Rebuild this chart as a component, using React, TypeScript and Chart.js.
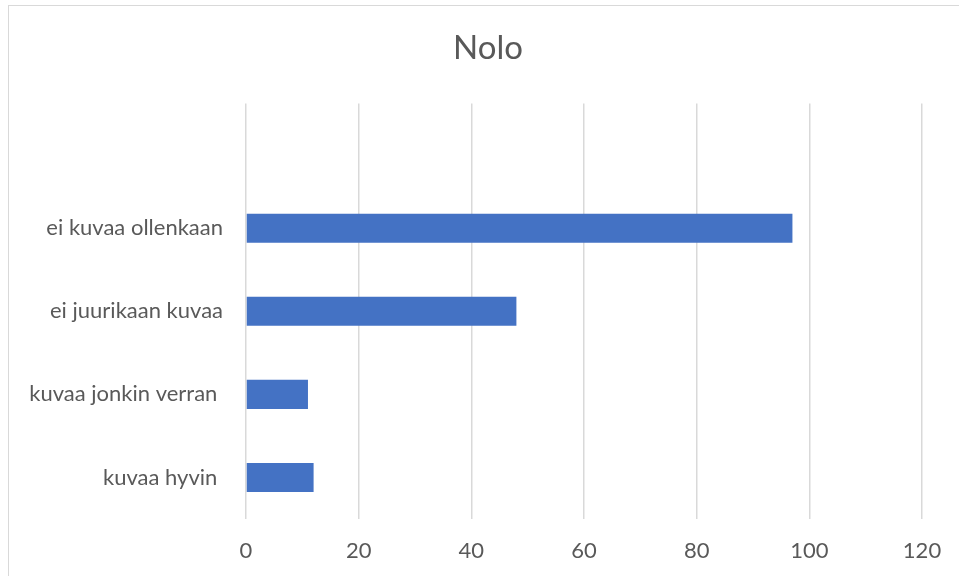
import React, { useEffect, useRef } from "react";
import { Chart, registerables } from "chart.js";

Chart.register(...registerables);

const titleText = "Nolo";
const categories = ["", "ei kuvaa ollenkaan", "ei juurikaan kuvaa", "kuvaa jonkin verran ", "kuvaa hyvin "];
const values: (number | null)[] = [null, 97, 48, 11, 12];
const xMin = 0;
const xMax = 120;
const xStep = 20;

const FONT = "Lato, 'Open Sans', sans-serif";
const TEXT = "#595959";

export default function App() {
  const ref = useRef<HTMLCanvasElement | null>(null);

  useEffect(() => {
    if (!ref.current) return;
    const chart = new Chart(ref.current, {
      type: "bar",
      data: {
        labels: categories,
        datasets: [
          {
            data: values,
            backgroundColor: "#4472C4",
            borderWidth: 0,
            categoryPercentage: 1,
            barPercentage: 0.35,
          },
        ],
      },
      options: {
        indexAxis: "y",
        responsive: false,
        animation: false,
        layout: { padding: { left: 0, right: 0, top: 0, bottom: 0 } },
        plugins: {
          legend: { display: false },
          tooltip: { enabled: false },
          title: {
            display: true,
            text: titleText,
            color: TEXT,
            font: { family: FONT, size: 33, weight: "normal" },
            padding: { top: 23, bottom: 35 },
          },
        },
        scales: {
          x: {
            min: xMin,
            max: xMax,
            ticks: {
              stepSize: xStep,
              color: TEXT,
              font: { family: FONT, size: 22 },
              padding: 19,
            },
            grid: { color: "#d9d9d9", lineWidth: 1.5, drawTicks: false },
            border: { display: false },
            afterFit: (s: any) => {
              s.height = 57;
            },
          },
          y: {
            ticks: {
              color: TEXT,
              font: { family: FONT, size: 22 },
              padding: 23,
            },
            grid: { display: false, drawTicks: false },
            border: { display: false },
            afterFit: (s: any) => {
              s.width = 237;
            },
          },
          yRight: {
            type: "category",
            position: "right",
            labels: [""],
            ticks: { display: false },
            grid: { display: false, drawTicks: false },
            border: { display: false },
            afterFit: (s: any) => {
              s.width = 45;
            },
          },
        },
      },
    });
    return () => chart.destroy();
  }, []);

  return (
    <div
      style={{
        position: "absolute",
        left: 8,
        top: 5,
        width: 951,
        height: 571,
        boxSizing: "border-box",
        borderLeft: "1px solid #d9d9d9",
        borderTop: "1px solid #d9d9d9",
        background: "#fff",
        overflow: "hidden",
      }}
    >
      <canvas ref={ref} width={958} height={570} style={{ display: "block" }} />
    </div>
  );
}
